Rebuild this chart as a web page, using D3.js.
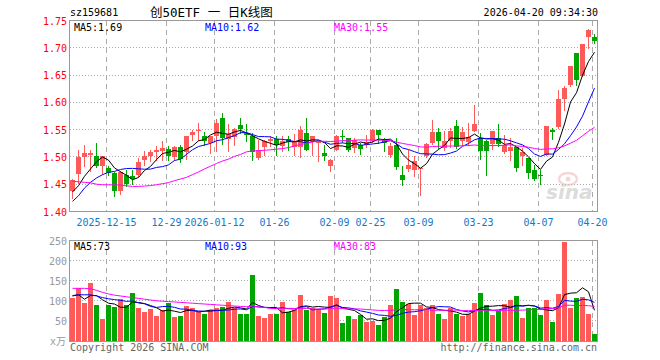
<!DOCTYPE html>
<html><head><meta charset="utf-8">
<script src="https://cdn.jsdelivr.net/npm/d3@7"></script>
<style>body{margin:0;background:#fff}svg{display:block}</style>
</head><body><svg id="c" width="660" height="360"></svg>
<script>
const dates = ["2025-12-05","2025-12-08","2025-12-09","2025-12-10","2025-12-11","2025-12-12","2025-12-15","2025-12-16","2025-12-17","2025-12-18",
"2025-12-19","2025-12-22","2025-12-23","2025-12-24","2025-12-25","2025-12-26","2025-12-29","2025-12-30","2025-12-31","2026-01-05",
"2026-01-06","2026-01-07","2026-01-08","2026-01-09","2026-01-12","2026-01-13","2026-01-14","2026-01-15","2026-01-16","2026-01-19",
"2026-01-20","2026-01-21","2026-01-22","2026-01-23","2026-01-26","2026-01-27","2026-01-28","2026-01-29","2026-01-30","2026-02-02",
"2026-02-03","2026-02-04","2026-02-05","2026-02-06","2026-02-09","2026-02-10","2026-02-11","2026-02-12","2026-02-13","2026-02-24",
"2026-02-25","2026-02-26","2026-02-27","2026-03-02","2026-03-03","2026-03-04","2026-03-05","2026-03-06","2026-03-09","2026-03-10",
"2026-03-11","2026-03-12","2026-03-13","2026-03-16","2026-03-17","2026-03-18","2026-03-19","2026-03-20","2026-03-23","2026-03-24",
"2026-03-25","2026-03-26","2026-03-27","2026-03-30","2026-03-31","2026-04-01","2026-04-02","2026-04-03","2026-04-07","2026-04-08",
"2026-04-09","2026-04-10","2026-04-13","2026-04-14","2026-04-15","2026-04-16","2026-04-17","2026-04-20"];

const opens = [1.4369,1.4694,1.4994,1.5043,1.5025,1.4841,1.4798,1.4706,1.4369,1.4675,
1.4645,1.4675,1.4939,1.5012,1.5098,1.5104,1.5153,1.4994,1.5178,1.5090,
1.5404,1.5484,1.5380,1.5257,1.5380,1.5717,1.5331,1.5368,1.5594,1.5444,
1.5392,1.4982,1.5184,1.5288,1.5331,1.5196,1.5331,1.5184,1.5184,1.5441,
1.5288,1.5257,1.5074,1.4828,1.5135,1.5392,1.5349,1.5165,1.5227,1.5227,
1.5288,1.5490,1.5310,1.5043,1.5227,1.4675,1.4779,1.4755,1.4776,1.5021,
1.5248,1.5451,1.5156,1.5291,1.5574,1.5300,1.5270,1.5480,1.5346,1.5297,
1.5235,1.5346,1.5082,1.5113,1.5174,1.5009,1.4972,1.4763,1.4678,1.5039,
1.5493,1.5542,1.6057,1.6326,1.6902,1.6491,1.7196,1.7202];
const highs = [1.4602,1.5123,1.5227,1.5120,1.5257,1.5025,1.4841,1.4718,1.4737,1.4767,
1.4767,1.4982,1.5104,1.5123,1.5196,1.5288,1.5196,1.5196,1.5227,1.5380,
1.5502,1.5613,1.5453,1.5380,1.5686,1.5809,1.5600,1.5527,1.5717,1.5599,
1.5441,1.5310,1.5319,1.5392,1.5392,1.5380,1.5392,1.5429,1.5564,1.5717,
1.5392,1.5288,1.5227,1.4963,1.5405,1.5490,1.5349,1.5349,1.5257,1.5400,
1.5515,1.5490,1.5353,1.5257,1.5349,1.4828,1.5135,1.5025,1.4800,1.5248,
1.5678,1.5525,1.5475,1.5525,1.5678,1.5540,1.5615,1.5958,1.5438,1.5315,
1.5480,1.5609,1.5407,1.5346,1.5174,1.5162,1.4978,1.4855,1.4763,1.5572,
1.5529,1.6228,1.6301,1.6675,1.6902,1.7061,1.7337,1.7245];
const lows = [1.4246,1.4522,1.4828,1.4737,1.4810,1.4694,1.4663,1.4277,1.4326,1.4461,
1.4510,1.4645,1.4859,1.4920,1.4939,1.4939,1.4939,1.4939,1.4902,1.4970,
1.5319,1.5306,1.5227,1.5074,1.5104,1.5233,1.5100,1.5227,1.5441,1.5290,
1.4951,1.4970,1.5043,1.5196,1.5043,1.5104,1.5135,1.5043,1.5000,1.5123,
1.5043,1.4920,1.4951,1.4737,1.5123,1.5270,1.5110,1.5086,1.5061,1.5190,
1.5270,1.5257,1.5100,1.5000,1.4779,1.4491,1.4737,1.4645,1.4298,1.5003,
1.5230,1.5169,1.5126,1.5187,1.5169,1.5220,1.5223,1.5468,1.4966,1.4672,
1.5150,1.5193,1.5070,1.4947,1.4751,1.4855,1.4623,1.4586,1.4500,1.5027,
1.5321,1.5529,1.5854,1.6301,1.6310,1.6479,1.7000,1.7092];
const closes = [1.4571,1.4994,1.5080,1.5080,1.4828,1.5012,1.4706,1.4369,1.4724,1.4510,
1.4602,1.4908,1.5012,1.5098,1.5135,1.5159,1.5025,1.5178,1.4963,1.5380,
1.5453,1.5502,1.5300,1.5380,1.5625,1.5349,1.5423,1.5515,1.5515,1.5405,
1.5086,1.5135,1.5288,1.5331,1.5227,1.5288,1.5270,1.5270,1.5502,1.5135,
1.5380,1.5270,1.5025,1.4951,1.5392,1.5368,1.5135,1.5319,1.5153,1.5270,
1.5490,1.5410,1.5260,1.5196,1.4816,1.4583,1.4859,1.4920,1.4790,1.5230,
1.5451,1.5291,1.5291,1.5475,1.5187,1.5450,1.5370,1.5609,1.5113,1.5113,
1.5468,1.5235,1.5223,1.5186,1.4806,1.5082,1.4714,1.4598,1.4660,1.5560,
1.5456,1.6070,1.6270,1.6675,1.6410,1.7061,1.7325,1.7123];
const volumes = [107,132,94,144,89,54,89,84,104,89,
119,82,72,79,62,77,94,59,62,87,
82,72,67,77,82,84,97,82,67,67,
164,62,57,67,67,97,72,77,114,77,
82,79,69,112,107,44,62,54,64,47,
49,39,59,89,129,97,92,64,89,82,
89,67,54,82,67,62,67,94,119,89,
64,74,92,102,112,57,82,82,64,102,
47,117,247,82,107,109,67,17];

// moving-average values before enough history is on screen
const ma5Head = [1.4357,1.4473,1.4645,1.4779];
const ma10Head = [1.4185,1.4289,1.4430,1.4534,1.4614,1.4675,1.4718,1.4735,1.4770];
const ma30Head = [1.4553,1.4545,1.4535,1.4525,1.4500,1.4490,1.4490,1.4488,1.4485,1.4470,
1.4460,1.4460,1.4465,1.4475,1.4490,1.4510,1.4530,1.4565,1.4595,1.4625,
1.4675,1.4725,1.4780,1.4830,1.4880,1.4925,1.4960,1.5010,1.5045];
const volMa5Head = [112,115,104,113];
const volMa10Head = [113,115,115,115,112,108,105,103,101];
const volMa30Head = [131,131,131,130,126,121,117,114,112,110,
108,106,104,102,100,99,98,97,96,95,
94,93,92,91,90,89,88,87,86];

const priceTicks = [1.40,1.45,1.50,1.55,1.60,1.65,1.70,1.75];
const volTicks = [50,100,150,200,250];
const xTickDates = ["2025-12-15","2025-12-29","2026-01-12","2026-01-26","2026-02-09","2026-02-25","2026-03-09","2026-03-23","2026-04-07","2026-04-20"];
const xTickLabels = ["2025-12-15","12-29","2026-01-12","01-26","02-09","02-25","03-09","03-23","04-07","04-20"];
const maNames = ["MA5","MA10","MA30"];
const priceMaText = ["1.69","1.62","1.55"];
const volMaText = ["73","93","83"];
const maColors = ["#000000","#0000ff","#ff00ff"];

const RED = "#ff5a5a", GREEN = "#00a600", GRID = "#aaaaaa", FRAME = "#999999";
const MONO = "'DejaVu Sans Mono', 'Liberation Mono', monospace";

const svg = d3.select("#c");
svg.append("rect").attr("width",660).attr("height",360).attr("fill","#fff");

const x = d3.scaleBand().domain(dates).range([70, 597]).paddingInner(1/6).paddingOuter(0);
const y = d3.scaleLinear().domain([1.40, 1.75]).range([211.5, 20.5]);
const yv = d3.scaleLinear().domain([0, 250]).range([341, 240.5]);
const cx = d => x(d) + 2.5;
const snap = v => Math.round(v - 0.5) + 0.5;

function movingAvg(vals, n, head) {
  return vals.map((v, i) => i < n - 1 ? head[i] : d3.mean(vals.slice(i - n + 1, i + 1)));
}

const rows = dates.map((d, i) => ({d, o: opens[i], h: highs[i], l: lows[i], c: closes[i], v: volumes[i]}));
const col = r => r.c >= r.o ? RED : GREEN;

// ---------- grids ----------
const gPrice = svg.append("g");
gPrice.selectAll("line.h").data(priceTicks.slice(1, -1)).join("line")
  .attr("x1", 70).attr("x2", 597).attr("y1", d => snap(y(d))).attr("y2", d => snap(y(d)))
  .attr("stroke", GRID).attr("stroke-dasharray", "1,2");
gPrice.selectAll("line.v").data(xTickDates).join("line")
  .attr("x1", d => x(d) + 0.5).attr("x2", d => x(d) + 0.5).attr("y1", 21).attr("y2", 211)
  .attr("stroke", GRID).attr("stroke-dasharray", "5,4");

const gVol = svg.append("g");
gVol.selectAll("line.h").data(volTicks.slice(0, -1)).join("line")
  .attr("x1", 70).attr("x2", 597).attr("y1", d => snap(yv(d))).attr("y2", d => snap(yv(d)))
  .attr("stroke", GRID).attr("stroke-dasharray", "1,2");
gVol.selectAll("line.v").data(xTickDates).join("line")
  .attr("x1", d => x(d) + 0.5).attr("x2", d => x(d) + 0.5).attr("y1", 241).attr("y2", 341)
  .attr("stroke", GRID).attr("stroke-dasharray", "5,4");

// ---------- watermark ----------
const wm = svg.append("g").attr("opacity", 0.5);
wm.append("ellipse").attr("cx", 568).attr("cy", 179).attr("rx", 9).attr("ry", 6)
  .attr("fill", "none").attr("stroke", "#eeb0b0").attr("stroke-width", 2.5);
wm.append("circle").attr("cx", 568).attr("cy", 179).attr("r", 2.5).attr("fill", "#eeb0b0");
wm.append("text").attr("x", 546).attr("y", 199).text("sina")
  .attr("font-family", "'DejaVu Sans', sans-serif").attr("font-weight", "bold")
  .attr("font-style", "italic").attr("font-size", 20).attr("fill", "#bbbbbb");

// ---------- candles ----------
const gC = svg.append("g");
gC.selectAll("line").data(rows).join("line")
  .attr("x1", r => cx(r.d)).attr("x2", r => cx(r.d))
  .attr("y1", r => Math.round(y(r.h))).attr("y2", r => Math.round(y(r.l)) + 1)
  .attr("stroke", col);
gC.selectAll("rect").data(rows).join("rect")
  .attr("x", r => x(r.d)).attr("width", x.bandwidth())
  .attr("y", r => Math.round(y(Math.max(r.o, r.c))))
  .attr("height", r => Math.max(1, Math.round(y(Math.min(r.o, r.c))) - Math.round(y(Math.max(r.o, r.c)))))
  .attr("fill", col);

// ---------- volume bars ----------
svg.append("g").selectAll("rect").data(rows).join("rect")
  .attr("x", r => x(r.d)).attr("width", x.bandwidth())
  .attr("y", r => Math.round(yv(r.v))).attr("height", r => 341 - Math.round(yv(r.v)))
  .attr("fill", col);

// ---------- MA lines ----------
const priceMAs = [movingAvg(closes, 5, ma5Head), movingAvg(closes, 10, ma10Head), movingAvg(closes, 30, ma30Head)];
const volMAs = [movingAvg(volumes, 5, volMa5Head), movingAvg(volumes, 10, volMa10Head), movingAvg(volumes, 30, volMa30Head)];
const lp = d3.line().x((v, i) => cx(dates[i])).y(v => y(v));
const lv = d3.line().x((v, i) => cx(dates[i])).y(v => yv(v));
priceMAs.forEach((a, k) => svg.append("path").attr("d", lp(a)).attr("fill", "none").attr("stroke", maColors[k]).attr("stroke-width", 1));
volMAs.forEach((a, k) => svg.append("path").attr("d", lv(a)).attr("fill", "none").attr("stroke", maColors[k]).attr("stroke-width", 1));

// ---------- frames ----------
svg.append("rect").attr("x", 69.5).attr("y", 20.5).attr("width", 528).attr("height", 191)
  .attr("fill", "none").attr("stroke", FRAME);
svg.append("rect").attr("x", 69.5).attr("y", 240.5).attr("width", 528).attr("height", 101)
  .attr("fill", "none").attr("stroke", FRAME);

// ---------- texts ----------
const txt = (s, xx, yy, fill, anchor, size, fam) => svg.append("text").attr("x", xx).attr("y", yy)
  .attr("fill", fill).attr("text-anchor", anchor || "start").attr("font-size", size || 10)
  .attr("font-family", fam || MONO).text(s);

txt("sz159681", 70, 16, "#000");
txt("创50ETF 一 日K线图", 150, 17, "#000", "start", 12.5, "'DejaVu Sans Mono', 'Noto Sans CJK SC', monospace");
txt("2026-04-20 09:34:30", 598, 16, "#000", "end");

svg.append("g").selectAll("text").data(priceTicks).join("text")
  .attr("x", 67).attr("y", d => y(d) + 4).attr("text-anchor", "end")
  .attr("font-size", 10).attr("font-family", MONO).attr("fill", "#ff0000")
  .text(d => d.toFixed(2));
svg.append("g").selectAll("text").data(volTicks).join("text")
  .attr("x", 67).attr("y", d => yv(d) + 4).attr("text-anchor", "end")
  .attr("font-size", 10).attr("font-family", MONO).attr("fill", "#999")
  .text(d => d);
txt("x万", 50, 345, "#999", "start", 10, "'DejaVu Sans Mono', 'Noto Sans CJK SC', monospace");

svg.append("g").selectAll("text").data(xTickDates).join("text")
  .attr("x", d => x(d) + 0.5).attr("y", 226).attr("text-anchor", "middle")
  .attr("font-size", 10).attr("font-family", MONO).attr("fill", "#1478c8")
  .text((d, i) => xTickLabels[i]);

const legX = [74, 205, 334];
maNames.forEach((n, k) => {
  txt(n + ":" + priceMaText[k], legX[k], 31, maColors[k]);
  txt(n + ":" + volMaText[k], legX[k], 250, maColors[k]);
});

txt("Copyright 2026 SINA.COM", 70, 351, "#666");
txt("http://finance.sina.com.cn", 597, 351, "#666", "end");
</script>
</body></html>
